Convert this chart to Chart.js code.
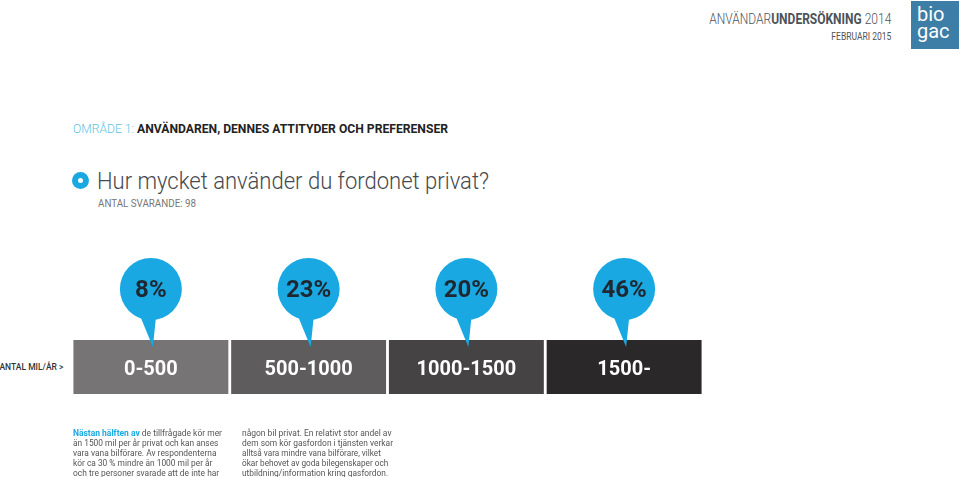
<!DOCTYPE html>
<html>
<head>
<meta charset="utf-8">
<script src="https://cdn.jsdelivr.net/npm/chart.js@4.4.1/dist/chart.umd.min.js"></script>
<style>
  body { margin: 0; width: 960px; height: 477px; overflow: hidden; background: #fff; font-family: Roboto, sans-serif; }
  .t { position: absolute; white-space: nowrap; line-height: 1; }
  .r { transform-origin: right center; }
  .l { transform-origin: left center; }
  /* canvas is larger than the plot: Chart.js insets the area by the point radius */
  #chartWrap { position: absolute; left: 41px; top: 219px; width: 693px; height: 212px; }
  .para { position: absolute; font-size: 9px; color: #555; line-height: 10.1px; }
  .para div { white-space: nowrap; transform-origin: left center; }
</style>
</head>
<body>
<div class="t r" data-fit="182" style="right:69px; top:12px; font-size:14px; color:#4d5258; font-weight:300;">ANVÄNDAR<b style="font-weight:700">UNDERSÖKNING</b> 2014</div>
<div class="t r" data-fit="60" style="right:69px; top:32px; font-size:10px; color:#555;">FEBRUARI 2015</div>
<div style="position:absolute; left:911px; top:1px; width:48px; height:48px; background:#3d7ea6;"></div>
<div class="t" style="left:917px; top:6px; font-size:20px; color:#fff; font-weight:400; line-height:17px;">bio<br>gac</div>

<div class="t l" data-fit="375" style="left:73px; top:123px; font-size:12.5px;"><span style="color:#5ec3e0; font-weight:300;">OMRÅDE 1: </span><b style="color:#222;">ANVÄNDAREN, DENNES ATTITYDER OCH PREFERENSER</b></div>
<div style="position:absolute; left:72px; top:172px; width:17px; height:17px; border-radius:50%; background:#1aa8e2;"></div>
<div style="position:absolute; left:78px; top:178px; width:5px; height:5px; border-radius:50%; background:#fff;"></div>
<div class="t l" data-fit="392" style="left:97px; top:169px; font-size:24px; font-weight:300; color:#45494e;">Hur mycket använder du fordonet privat?</div>
<div class="t l" data-fit="98" style="left:98px; top:199px; font-size:10px; color:#777;">ANTAL SVARANDE: 98</div>
<div class="t r" data-fit="64" style="right:897px; top:362px; font-size:9.5px; color:#333; font-weight:500;">ANTAL MIL/ÅR &gt;</div>

<div id="chartWrap"><canvas id="chart" width="693" height="212"></canvas></div>

<div class="para" style="left:73px; top:428px;">
  <div data-fit="149"><b style="color:#1aa8e2;">Nästan hälften av</b> de tillfrågade kör mer</div>
  <div data-fit="147">än 1500 mil per år privat och kan anses</div>
  <div data-fit="148">vara vana bilförare. Av respondenterna</div>
  <div data-fit="147">kör ca 30 % mindre än 1000 mil per år</div>
  <div data-fit="148">och tre personer svarade att de inte har</div>
</div>
<div class="para" style="left:242px; top:428px;">
  <div data-fit="152">någon bil privat. En relativt stor andel av</div>
  <div data-fit="151">dem som kör gasfordon i tjänsten verkar</div>
  <div data-fit="147">alltså vara mindre vana bilförare, vilket</div>
  <div data-fit="147">ökar behovet av goda bilegenskaper och</div>
  <div data-fit="150">utbildning/information kring gasfordon.</div>
</div>

<script>
// Mileage ranges (mil per year) and share of respondents
const categories = ['0-500', '500-1000', '1000-1500', '1500-'];
const shares = [8, 23, 20, 46];

const boxColors = ['#767475', '#5e5c5d', '#454344', '#2a2829'];
const bubbleColor = '#1aa8e2';
const BOX_TOP = 90, BOX_BOTTOM = 144, BUBBLE_Y = 39, BUBBLE_R = 31;

// squeeze texts to the widths of the original layout
function fitTexts() {
    document.querySelectorAll('[data-fit]').forEach(el => {
        const w = el.getBoundingClientRect().width;
        el.style.transform = `scaleX(${el.dataset.fit / w})`;
    });
}

const labelsPlugin = {
    id: 'infoLabels',
    afterDatasetsDraw(chart) {
        const ctx = chart.ctx;
        const y = chart.scales.y;
        const bars = chart.getDatasetMeta(1).data;
        const points = chart.getDatasetMeta(0).data;
        ctx.save();
        // bubble tails
        ctx.fillStyle = bubbleColor;
        points.forEach(p => {
            ctx.beginPath();
            ctx.moveTo(p.x - 12, p.y + 24);
            ctx.lineTo(p.x + 5, p.y + 29);
            ctx.lineTo(p.x + 2, p.y + 58);
            ctx.closePath();
            ctx.fill();
        });
        ctx.textAlign = 'center';
        ctx.textBaseline = 'middle';
        ctx.fillStyle = '#1f2830';
        ctx.font = 'bold 24px Roboto';
        points.forEach((p, i) => ctx.fillText(shares[i] + '%', p.x, p.y + 2));
        ctx.fillStyle = '#fff';
        ctx.font = 'bold 20px Roboto';
        const midY = y.getPixelForValue((BOX_TOP + BOX_BOTTOM) / 2) + 3;
        bars.forEach((b, i) => ctx.fillText(categories[i], b.x, midY));
        ctx.restore();
    }
};

new Chart(document.getElementById('chart'), {
    data: {
        labels: categories,
        datasets: [{
            type: 'line',
            data: categories.map(() => BUBBLE_Y),
            showLine: false,
            pointRadius: BUBBLE_R,
            pointHoverRadius: BUBBLE_R,
            pointBackgroundColor: bubbleColor,
            pointBorderWidth: 0,
            order: 0
        }, {
            type: 'bar',
            data: categories.map(() => [BOX_TOP, BOX_BOTTOM]),
            backgroundColor: boxColors,
            borderWidth: 0,
            categoryPercentage: 1,
            barPercentage: 0.982,
            order: 1
        }]
    },
    plugins: [labelsPlugin],
    options: {
        responsive: false,
        animation: false,
        devicePixelRatio: 1,
        layout: { padding: 0 },
        plugins: { legend: { display: false }, tooltip: { enabled: false } },
        scales: {
            x: { display: false, offset: true },
            y: { display: false, min: 0, max: 150, reverse: true }
        }
    }
});

fitTexts();
</script>
</body>
</html>
